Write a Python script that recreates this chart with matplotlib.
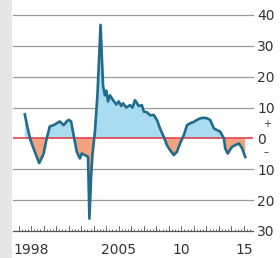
import numpy as np
import matplotlib.pyplot as plt
from matplotlib.patches import Rectangle

# data (year, % change)
years = [1997.5, 1997.75, 1997.95, 1998.3, 1998.65, 1999.0, 1999.25, 1999.5, 1999.8,
         2000.05, 2000.3, 2000.6, 2000.85, 2001.0, 2001.2, 2001.4, 2001.65, 2001.9,
         2002.05, 2002.3, 2002.55, 2002.66, 2002.8, 2002.9, 2003.1, 2003.3, 2003.55,
         2003.75, 2003.9, 2004.0, 2004.15, 2004.3, 2004.55, 2004.8, 2005.0, 2005.2,
         2005.35, 2005.6, 2005.9, 2006.1, 2006.3, 2006.6, 2006.85, 2007.0, 2007.25,
         2007.5, 2007.8, 2008.05, 2008.3, 2008.6, 2008.85, 2009.1, 2009.4, 2009.65,
         2009.9, 2010.2, 2010.45, 2010.7, 2011.0, 2011.25, 2011.5, 2011.8, 2012.05,
         2012.3, 2012.6, 2012.85, 2013.1, 2013.4, 2013.5, 2013.7, 2014.05, 2014.3,
         2014.6, 2014.85, 2015.1]
values = [7.8, 3, -0.5, -4.3, -8, -5, 0, 3.9, 4.3,
          4.9, 5.5, 4.3, 5.5, 6, 5.5, 1, -4.3, -6.5,
          -4.9, -5.4, -6, -26, -12, -5.4, 2.2, 14, 36.8,
          17, 14, 15.5, 12, 14, 12.4, 11, 12, 10.5,
          11.4, 10, 10.8, 10, 12.4, 10.5, 10.8, 8.7, 8.5,
          7.5, 7.6, 6, 3.2, 0.5, -2.2, -3.8, -5.4, -4.3,
          -1.6, 1.1, 4.3, 4.9, 5.4, 6, 6.5, 6.7, 6.5,
          6, 3.2, 2.7, 2.2, 0, -3.2, -4.9, -2.7, -2.2,
          -1.6, -3.2, -6]

ytick_vals = [40, 30, 20, 10, 0, -10, -20, -30]
ytick_labels = ["40", "30", "20", "10", "0", "10", "20", "30"]
xtick_vals = [1998, 2005, 2010, 2015]
xtick_labels = ["1998", "2005", "10", "15"]

x = np.array(years)
y = np.array(values)

fig = plt.figure(figsize=(2.8, 2.58), dpi=100)
fig.patch.set_facecolor("white")
fig.patches.append(Rectangle((0, 0), 12 / 280, 1, transform=fig.transFigure,
                             facecolor="#e6e6e6", edgecolor="none", zorder=0))

ax = fig.add_axes([13 / 280, 27 / 258, 240 / 280, 216 / 258])
ax.set_xlim(1996.56, 2015.72)
ax.set_ylim(-30, 40)

ax.fill_between(x, y, 0, where=y >= 0, interpolate=True, color="#a9dcf0", lw=0, zorder=1)
ax.fill_between(x, y, 0, where=y <= 0, interpolate=True, color="#f4a37f", lw=0, zorder=1)
ax.axhline(0, color="#e8323c", lw=1.1, zorder=2)
ax.plot(x, y, color="#226b8c", lw=1.9, zorder=3, clip_on=False, solid_joinstyle="round")

for v in ytick_vals[:-1]:
    if v != 0:
        ax.axhline(v, color="#9a9a9a", lw=0.9, zorder=0, clip_on=False)

for s in ["top", "left", "right"]:
    ax.spines[s].set_visible(False)
ax.spines["bottom"].set_color("#555555")
ax.spines["bottom"].set_linewidth(0.9)

ax.yaxis.tick_right()
ax.set_yticks(ytick_vals)
ax.set_yticklabels(ytick_labels)
ax.tick_params(axis="y", length=0, pad=3, labelsize=10, labelcolor="#333333")

ax.set_xticks(xtick_vals)
ax.set_xticklabels(xtick_labels)
ax.set_xticks(np.arange(1997, 2015.6, 0.25), minor=True)
ax.tick_params(axis="x", which="major", direction="in", length=0, pad=9,
               labelsize=10, labelcolor="#333333")
ax.tick_params(axis="x", which="minor", direction="in", length=1.8, width=0.6,
               color="#555555")
# taller tick at each year
for yr in np.arange(1997, 2016):
    ax.plot([yr, yr], [-30, -28.4], color="#555555", lw=0.6, zorder=0)

ax.text(1.04, 4.7, "+", transform=ax.get_yaxis_transform(), fontsize=7,
        color="#333333", ha="left", va="center")
ax.text(1.045, -4.4, "–", transform=ax.get_yaxis_transform(), fontsize=7,
        color="#333333", ha="left", va="center")

fig.savefig("out.png", dpi=100, facecolor=fig.get_facecolor())
